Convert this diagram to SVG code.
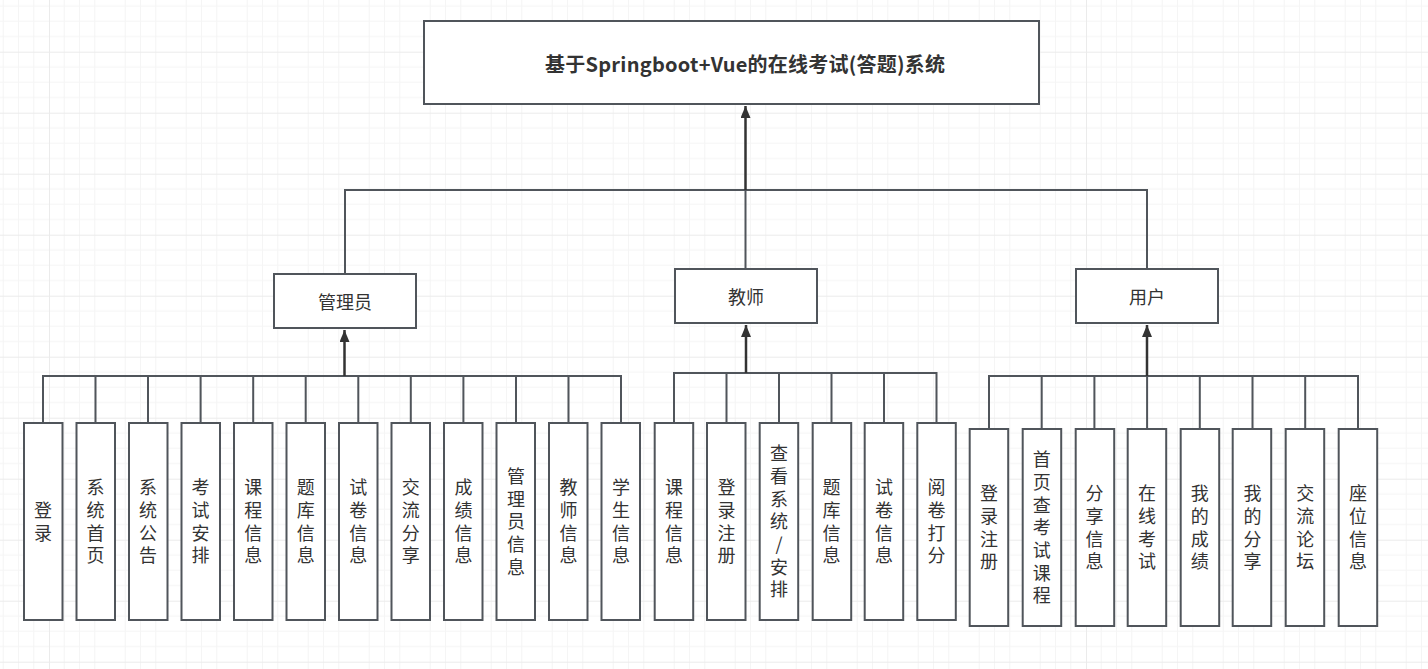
<svg xmlns="http://www.w3.org/2000/svg" width="1428" height="669" viewBox="0 0 1428 669">
<defs>
<pattern id="grid" patternUnits="userSpaceOnUse" x="49" y="51.7" width="61" height="61">
<rect width="61" height="61" fill="#ffffff"/>
<path d="M15.25 0V61M30.5 0V61M45.75 0V61M0 15.25H61M0 30.5H61M0 45.75H61" stroke="#f5f5f5" stroke-width="1" fill="none"/>
<path d="M0.5 0V61M0 0.5H61" stroke="#ebebeb" stroke-width="1" fill="none"/>
</pattern>
<marker id="arr" markerUnits="userSpaceOnUse" markerWidth="12" markerHeight="12" refX="12" refY="5" orient="auto">
<path d="M0 0L12 5L0 10Z" fill="#333333"/>
</marker>
</defs>
<style>
.box{fill:#ffffff;stroke:#50555b;stroke-width:2}
.lbl{font-family:"Noto Sans CJK SC","Liberation Sans",sans-serif;font-size:18px;fill:#333333;text-anchor:middle;dominant-baseline:central}
.v{font-family:"Noto Sans CJK SC","Liberation Sans",sans-serif;font-size:18px;fill:#333333;text-anchor:middle;writing-mode:vertical-rl;text-orientation:upright;letter-spacing:4.7px}
.title{font-family:"Noto Sans CJK SC","Liberation Sans",sans-serif;font-size:20px;font-weight:bold;fill:#333333;text-anchor:middle;dominant-baseline:central}
.ln{fill:none;stroke:#50555b;stroke-width:2}
.ar{fill:none;stroke:#333333;stroke-width:2.5}
</style>
<rect width="1428" height="669" fill="url(#grid)"/>

<g id="connectors">
<path class="ln" d="M345 274V190H1147V269M745.5 190V269"/>
<path class="ar" d="M745.5 190V106" marker-end="url(#arr)"/>
<path class="ln" d="M43 423V376H621V423M95.5 376V423M148 376V423M200.6 376V423M253.2 376V423M305.7 376V423M358.3 376V423M410.8 376V423M463.4 376V423M516 376V423M568.5 376V423"/>
<path class="ar" d="M344.5 376V330" marker-end="url(#arr)"/>
<path class="ln" d="M674 423V373H936.5V423M726.5 373V423M779 373V423M831.5 373V423M884 373V423"/>
<path class="ar" d="M746 373V325" marker-end="url(#arr)"/>
<path class="ln" d="M989 429V376H1358V429M1041.7 376V429M1094.4 376V429M1147.1 376V429M1199.8 376V429M1252.5 376V429M1305.2 376V429"/>
<path class="ar" d="M1147 376V325" marker-end="url(#arr)"/>
</g>

<g id="title">
<rect class="box" x="424" y="21" width="615" height="83"/>
<text class="title" x="745" y="63" textLength="400" lengthAdjust="spacing">基于Springboot+Vue的在线考试(答题)系统</text>
</g>

<g id="admin">
<rect class="box" x="274" y="274" width="142" height="54"/>
<text class="lbl" x="345" y="301">管理员</text>
</g>
<g id="teacher">
<rect class="box" x="675" y="269" width="142" height="54"/>
<text class="lbl" x="746" y="296">教师</text>
</g>
<g id="user">
<rect class="box" x="1076" y="269" width="142" height="54"/>
<text class="lbl" x="1147" y="296">用户</text>
</g>

<!-- admin leaves -->
<g id="a1"><rect class="box" x="24" y="423" width="38.5" height="197"/><text class="v" x="43" y="523.8">登录</text></g>
<g id="a2"><rect class="box" x="76.5" y="423" width="38.5" height="197"/><text class="v" x="95.5" y="523.8">系统首页</text></g>
<g id="a3"><rect class="box" x="129" y="423" width="38.5" height="197"/><text class="v" x="148" y="523.8">系统公告</text></g>
<g id="a4"><rect class="box" x="181.5" y="423" width="38.5" height="197"/><text class="v" x="200.6" y="523.8">考试安排</text></g>
<g id="a5"><rect class="box" x="234" y="423" width="38.5" height="197"/><text class="v" x="253.2" y="523.8">课程信息</text></g>
<g id="a6"><rect class="box" x="286.5" y="423" width="38.5" height="197"/><text class="v" x="305.7" y="523.8">题库信息</text></g>
<g id="a7"><rect class="box" x="339" y="423" width="38.5" height="197"/><text class="v" x="358.3" y="523.8">试卷信息</text></g>
<g id="a8"><rect class="box" x="391.5" y="423" width="38.5" height="197"/><text class="v" x="410.8" y="523.8">交流分享</text></g>
<g id="a9"><rect class="box" x="444" y="423" width="38.5" height="197"/><text class="v" x="463.4" y="523.8">成绩信息</text></g>
<g id="a10"><rect class="box" x="496.5" y="423" width="38.5" height="197"/><text class="v" x="516" y="523.8">管理员信息</text></g>
<g id="a11"><rect class="box" x="549" y="423" width="38.5" height="197"/><text class="v" x="568.5" y="523.8">教师信息</text></g>
<g id="a12"><rect class="box" x="601.5" y="423" width="38.5" height="197"/><text class="v" x="621" y="523.8">学生信息</text></g>

<!-- teacher leaves -->
<g id="t1"><rect class="box" x="654.7" y="423" width="38.5" height="197"/><text class="v" x="674" y="523.8">课程信息</text></g>
<g id="t2"><rect class="box" x="707" y="423" width="38.5" height="197"/><text class="v" x="726.5" y="523.8">登录注册</text></g>
<g id="t3"><rect class="box" x="759.7" y="423" width="38.5" height="197"/><text class="v" x="779" y="523.8">查看系统/安排</text></g>
<g id="t4"><rect class="box" x="812.7" y="423" width="38.5" height="197"/><text class="v" x="831.5" y="523.8">题库信息</text></g>
<g id="t5"><rect class="box" x="864.7" y="423" width="38.5" height="197"/><text class="v" x="884" y="523.8">试卷信息</text></g>
<g id="t6"><rect class="box" x="917.3" y="423" width="38.5" height="197"/><text class="v" x="936.5" y="523.8">阅卷打分</text></g>

<!-- user leaves -->
<g id="u1"><rect class="box" x="969.7" y="429" width="38.5" height="197"/><text class="v" x="989" y="529.8">登录注册</text></g>
<g id="u2"><rect class="box" x="1022.7" y="429" width="38.5" height="197"/><text class="v" x="1041.7" y="529.8">首页查考试课程</text></g>
<g id="u3"><rect class="box" x="1075.7" y="429" width="38.5" height="197"/><text class="v" x="1094.4" y="529.8">分享信息</text></g>
<g id="u4"><rect class="box" x="1127.7" y="429" width="38.5" height="197"/><text class="v" x="1147.1" y="529.8">在线考试</text></g>
<g id="u5"><rect class="box" x="1180.7" y="429" width="38.5" height="197"/><text class="v" x="1199.8" y="529.8">我的成绩</text></g>
<g id="u6"><rect class="box" x="1232.7" y="429" width="38.5" height="197"/><text class="v" x="1252.5" y="529.8">我的分享</text></g>
<g id="u7"><rect class="box" x="1285.7" y="429" width="38.5" height="197"/><text class="v" x="1305.2" y="529.8">交流论坛</text></g>
<g id="u8"><rect class="box" x="1338.7" y="429" width="38.5" height="197"/><text class="v" x="1357.9" y="529.8">座位信息</text></g>
</svg>
